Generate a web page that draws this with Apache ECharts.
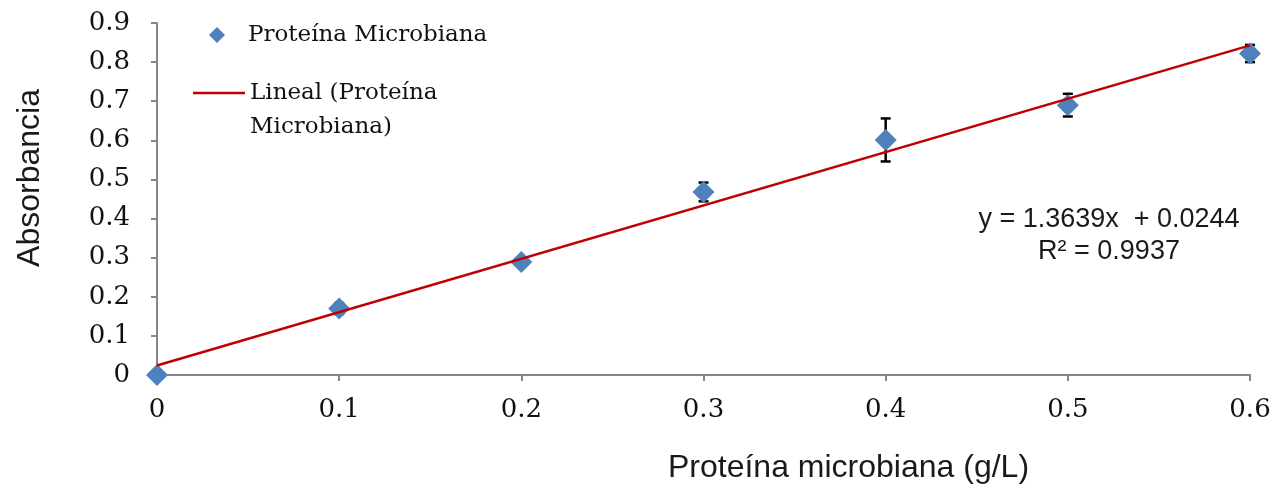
<!DOCTYPE html>
<html>
<head>
<meta charset="utf-8">
<script src="https://cdn.jsdelivr.net/npm/echarts@6/dist/echarts.min.js"></script>
<style>html,body{margin:0;padding:0;background:#fff}#c{width:1283px;height:492px}</style>
</head>
<body>
<div id="c"></div>
<script>
// ---- data ----
const xValues = [0, 0.1, 0.2, 0.3, 0.4, 0.5, 0.6];
const absorbance = [0, 0.170, 0.289, 0.468, 0.601, 0.690, 0.822];
const errors = [0, 0.014, 0.0, 0.024, 0.055, 0.029, 0.022];
const slope = 1.3639;
const intercept = 0.0244;
const rSquared = '0.9937';
const trendX = [0, 0.6];
const scatterName = 'Proteína Microbiana';
const lineName = 'Lineal (Proteína Microbiana)';
const xTitle = 'Proteína microbiana (g/L)';
const yTitle = 'Absorbancia';

const pts = xValues.map((x, i) => [x, absorbance[i]]);
const errData = xValues.map((x, i) => [x, absorbance[i] - errors[i], absorbance[i] + errors[i]]);
const trendData = trendX.map(x => [x, intercept + slope * x]);

const serif = 'DejaVu Serif';
const sans = 'Liberation Sans';
const axisGray = '#868686';
const txt = '#111';

const chart = echarts.init(document.getElementById('c'), null, {renderer: 'canvas'});
chart.setOption({
  animation: false,
  backgroundColor: '#fff',
  grid: {left: 157, right: 33, top: 23, bottom: 117},
  legend: [
    {
      orient: 'vertical', left: 209, top: 18, padding: 0,
      itemWidth: 16, itemHeight: 16,
      textStyle: {fontFamily: serif, fontSize: 23, color: txt, lineHeight: 34, padding: [0, 0, 0, 18]},
      data: [{name: scatterName, icon: 'diamond'}]
    },
    {
      orient: 'vertical', left: 193, top: 42, padding: 0,
      itemWidth: 52, itemHeight: 2.5,
      textStyle: {fontFamily: serif, fontSize: 23, color: txt, lineHeight: 34},
      data: [{name: lineName, icon: 'rect'}],
      formatter: () => '\nLineal (Proteína\nMicrobiana)'
    }
  ],
  xAxis: {
    type: 'value', min: 0, max: 0.6, interval: 0.1,
    name: xTitle, nameLocation: 'middle', nameGap: 77,
    nameTextStyle: {fontFamily: sans, fontSize: 32, color: '#1a1a1a', padding: [0, 0, 0, 290]},
    axisLine: {show: true, lineStyle: {color: axisGray, width: 2}},
    axisTick: {show: true, inside: false, length: 6, lineStyle: {color: axisGray, width: 2}},
    axisLabel: {fontFamily: serif, fontSize: 26, color: txt, margin: 22},
    splitLine: {show: false}
  },
  yAxis: {
    type: 'value', min: 0, max: 0.9, interval: 0.1,
    name: yTitle, nameLocation: 'middle', nameGap: 111, nameRotate: 90,
    nameTextStyle: {fontFamily: sans, fontSize: 32, color: '#1a1a1a', padding: [0, 0, 0, 42]},
    axisLine: {show: true, lineStyle: {color: axisGray, width: 2}},
    axisTick: {show: true, inside: false, length: 6, lineStyle: {color: axisGray, width: 2}},
    axisLabel: {fontFamily: serif, fontSize: 26, color: txt, margin: 27},
    splitLine: {show: false}
  },
  series: [
    {
      type: 'custom',
      name: 'errors',
      z: 1,
      silent: true,
      data: errData,
      encode: {x: 0, y: [1, 2]},
      renderItem: function (params, api) {
        const x = api.value(0);
        const lo = api.coord([x, api.value(1)]);
        const hi = api.coord([x, api.value(2)]);
        if (Math.abs(hi[1] - lo[1]) < 1) return null;
        const w = 5;
        const style = {stroke: '#000', lineWidth: 2.5, fill: null};
        return {
          type: 'group',
          children: [
            {type: 'line', shape: {x1: lo[0], y1: lo[1], x2: hi[0], y2: hi[1]}, style: style},
            {type: 'line', shape: {x1: lo[0] - w, y1: lo[1], x2: lo[0] + w, y2: lo[1]}, style: style},
            {type: 'line', shape: {x1: hi[0] - w, y1: hi[1], x2: hi[0] + w, y2: hi[1]}, style: style}
          ]
        };
      }
    },
    {
      type: 'scatter',
      name: scatterName,
      z: 2,
      symbol: 'diamond',
      symbolSize: 22,
      itemStyle: {color: '#4F81BD', opacity: 1},
      data: pts
    },
    {
      type: 'line',
      name: lineName,
      z: 3,
      symbol: 'none',
      lineStyle: {color: '#C00000', width: 2.5},
      itemStyle: {color: '#C00000'},
      data: trendData
    }
  ],
  graphic: [
    {
      type: 'text', x: 1109, y: 220,
      style: {text: 'y = 1.3639x  + 0.0244', fontFamily: sans, fontSize: 27, fill: '#1a1a1a', align: 'center', verticalAlign: 'middle'}
    },
    {
      type: 'text', x: 1109, y: 252,
      style: {text: 'R² = ' + rSquared, fontFamily: sans, fontSize: 27, fill: '#1a1a1a', align: 'center', verticalAlign: 'middle'}
    }
  ]
});
</script>
</body>
</html>
